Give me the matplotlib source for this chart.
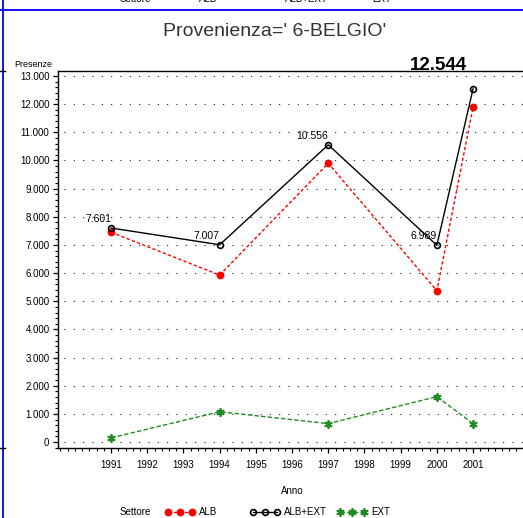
"""Presenze per anno - Provenienza Belgio."""
import matplotlib

matplotlib.use("Agg")
from matplotlib import pyplot as plt
from matplotlib.lines import Line2D
from matplotlib.ticker import FuncFormatter, MultipleLocator

anni = [1991, 1994, 1997, 2000, 2001]
alb = [7450, 5930, 9900, 5375, 11890]
alb_ext = [7601, 7007, 10556, 6989, 12544]
ext = [151, 1077, 656, 1614, 654]
anni_ticks = list(range(1991, 2002))
anni_lunghi = [1991, 1994, 1997, 2000, 2001]
settori = ["ALB", "ALB+EXT", "EXT"]

FONT = ["Liberation Sans", "DejaVu Sans"]
W, H = 523, 518

# stile delle serie (stesso ordine di settori)
STILI = [
    dict(color="#ff0000", linestyle=(0, (2.4, 1.6)), linewidth=1, marker="o",
         markersize=4.6, markerfacecolor="#ff0000", markeredgecolor="#ff0000"),
    dict(color="black", linestyle="-", linewidth=1, marker="o", markersize=4.2,
         markerfacecolor="none", markeredgecolor="black", markeredgewidth=1.2),
    dict(color="#228b22", linestyle=(0, (3.2, 1.6)), linewidth=1,
         marker=(6, 2, 0), markersize=6, markeredgewidth=1.3,
         markeredgecolor="#228b22"),
]


def migliaia(v, pos=None):
    """Formato italiano con il punto come separatore."""
    return f"{int(round(v)):,}".replace(",", ".")


def fx(px):
    return px / W


def fy(py):
    return 1 - py / H


def main():
    plt.rcParams["font.family"] = FONT
    fig = plt.figure(figsize=(W / 100, H / 100), dpi=100)
    ax = fig.add_axes([0.110, 0.135, 0.890, 0.728])

    for serie, stile, z in zip([alb, alb_ext, ext], STILI, [3, 4, 3]):
        ax.plot(anni, serie, zorder=z, **stile)

    # etichette dei valori ALB+EXT
    massimo = max(alb_ext)
    for x, y in zip(anni, alb_ext):
        if y == massimo:
            ax.annotate(migliaia(y), (x, y), xytext=(-4, 11),
                        textcoords="offset points", ha="right", va="bottom",
                        fontsize=13.5, fontweight="bold", annotation_clip=False)
        else:
            ax.annotate(migliaia(y), (x, y), xytext=(0, 3),
                        textcoords="offset points", ha="right", va="bottom",
                        fontsize=7.5)

    ax.set_xlim(1989.52, 2002.38)
    ax.set_ylim(-213, 13178)
    ax.set_xticks(anni_ticks)
    ax.xaxis.set_minor_locator(MultipleLocator(0.2))
    ax.yaxis.set_major_locator(MultipleLocator(1000))
    ax.yaxis.set_minor_locator(MultipleLocator(200))
    ax.yaxis.set_major_formatter(FuncFormatter(migliaia))
    ax.tick_params(axis="both", which="major", direction="out", length=3.8,
                   width=0.9, labelsize=7, pad=2)
    ax.tick_params(axis="both", which="minor", direction="out", length=2,
                   width=0.8)
    ax.tick_params(axis="x", pad=5)
    for tick in ax.xaxis.get_major_ticks():
        if tick.get_loc() in anni_lunghi:
            tick.tick1line.set_markersize(5)

    ax.grid(axis="y", which="major", color="black", linewidth=0.8,
            linestyle=(3, (0.9, 7.5)))
    ax.spines["right"].set_visible(False)
    for side in ["left", "bottom", "top"]:
        ax.spines[side].set_linewidth(1)

    fig.text(fx(52), fy(60), "Presenze", fontsize=6.5, ha="right", va="top")
    fig.text(fx(292), fy(491), "Anno", fontsize=7, ha="center", va="center")
    fig.text(fx(275), fy(32), "Provenienza=' 6-BELGIO'", fontsize=14,
             ha="center", va="center", color="#333333")

    # legenda disegnata a mano, come nell'originale
    fig.text(fx(120), fy(512), "Settore", fontsize=7, ha="left", va="center")
    for x0, testo, stile in zip([168, 253, 340], settori, STILI):
        fig.add_artist(Line2D([fx(x0), fx(x0 + 12), fx(x0 + 24)], [fy(512)] * 3,
                              transform=fig.transFigure, **stile))
        fig.text(fx(x0 + 31), fy(512), testo, fontsize=7, ha="left", va="center")

    # resti della pagina precedente
    for x0, t in zip([120, 199, 285, 372], ["Settore"] + settori):
        fig.text(fx(x0), fy(2.5), t, fontsize=7, ha="left", va="baseline")
    fig.add_artist(Line2D([0, 1], [fy(10)] * 2, color="#0000ff",
                          linewidth=1.3, transform=fig.transFigure))
    fig.add_artist(Line2D([fx(3)] * 2, [0, 1], color="#0000ff",
                          linewidth=1.3, transform=fig.transFigure))
    for y in [71, 448]:
        fig.add_artist(Line2D([0, fx(5)], [fy(y)] * 2, color="black",
                              linewidth=1, transform=fig.transFigure))

    fig.savefig("out.png", dpi=100)
    plt.close(fig)


if __name__ == "__main__":
    main()
